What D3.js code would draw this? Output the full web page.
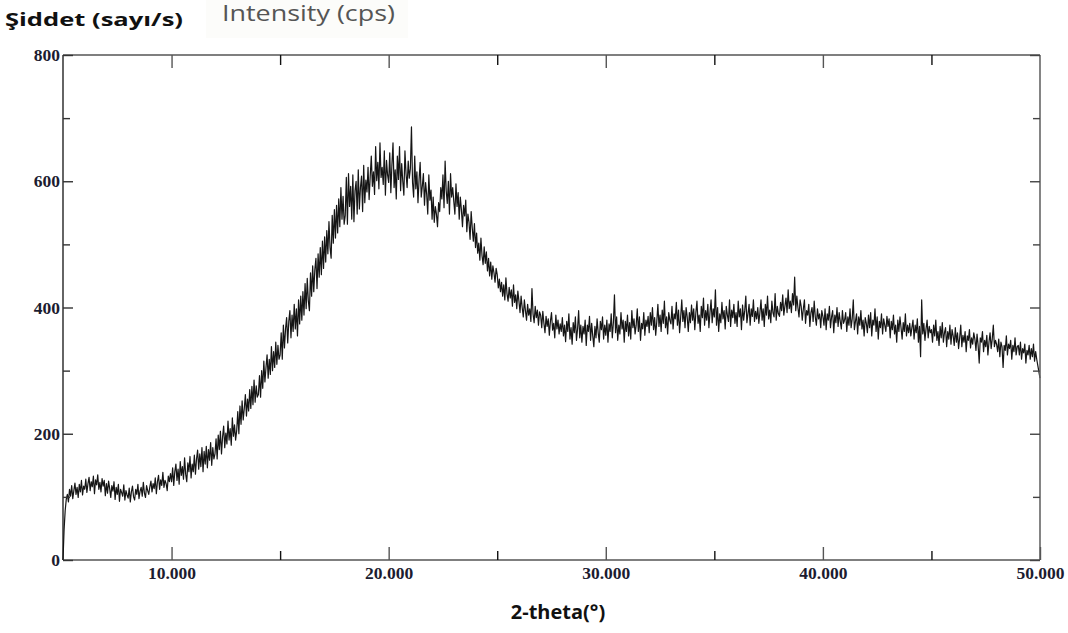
<!DOCTYPE html>
<html><head><meta charset="utf-8">
<script src="https://cdn.jsdelivr.net/npm/d3@7"></script>
<style>body{margin:0;background:#fff;}svg{display:block;}</style>
</head><body>
<script>
// 2-theta start, step (degrees) and intensity readings (cps), one row per degree
const thetaStart = 5.0;
const thetaStep = 0.05;
const intensity = [
  0, 48, 78, 96, 104, 92, 112, 101, 118, 97, 110, 122, 104, 115, 99, 120, 108, 126, 103, 117,
  112, 128, 107, 121, 131, 110, 124, 116, 133, 105, 127, 119, 135, 112, 123, 108, 129, 117, 126, 102,
  121, 106, 125, 113, 99, 118, 109, 124, 96, 115, 104, 120, 93, 112, 107, 101, 119, 95, 110, 103,
  98, 114, 92, 108, 117, 100, 95, 112, 104, 120, 97, 109, 115, 101, 123, 106, 99, 118, 110, 104,
  116, 125, 108, 121, 113, 130, 105, 124, 134, 112, 127, 118, 139, 115, 126, 121, 110, 133, 124, 137,
  124, 146, 118, 140, 152, 126, 144, 120, 156, 134, 148, 128, 162, 136, 124, 154, 140, 164, 130, 152,
  140, 166, 136, 160, 174, 144, 168, 148, 178, 140, 172, 152, 180, 146, 175, 158, 186, 150, 178, 160,
  168, 192, 160, 198, 175, 204, 168, 195, 212, 178, 201, 184, 220, 190, 208, 182, 225, 196, 214, 190,
  205, 235, 200, 244, 215, 252, 222, 240, 262, 228, 255, 236, 270, 240, 275, 246, 285, 250, 276, 258,
  262, 292, 258, 300, 272, 315, 282, 305, 325, 288, 318, 294, 338, 300, 330, 305, 345, 310, 340, 318,
  325, 360, 318, 372, 336, 366, 384, 344, 378, 395, 352, 388, 362, 405, 366, 398, 355, 412, 374, 418,
  380, 425, 388, 438, 398, 446, 410, 395, 455, 418, 466, 425, 460, 478, 430, 485, 448, 495, 452, 505,
  462, 512, 472, 522, 485, 536, 495, 478, 546, 502, 555, 510, 562, 518, 572, 528, 590, 540, 576, 532,
  546, 606, 532, 612, 560, 592, 540, 610, 536, 585, 600, 548, 618, 556, 590, 608, 552, 625, 566, 602,
  583, 622, 571, 608, 640, 592, 615, 579, 655, 601, 630, 588, 661, 606, 622, 595, 648, 578, 633, 610,
  598, 645, 582, 626, 661, 590, 618, 572, 640, 603, 655, 585, 628, 600, 578, 648, 612, 590, 632, 605,
  620, 686, 598, 575, 640, 588, 615, 566, 602, 630, 575, 592, 612, 562, 598, 580, 548, 610, 570, 586,
  540, 575, 535, 560, 548, 528, 566, 552, 590, 572, 610, 558, 632, 585, 565, 600, 548, 612, 575, 590,
  568, 548, 596, 560, 582, 540, 575, 555, 528, 562, 545, 570, 520, 548, 535, 508, 552, 526, 505, 533,
  495, 518, 486, 502, 475, 510, 482, 468, 496, 470, 488, 458, 478, 450, 472, 445, 466, 455, 440, 462,
  452, 431, 445, 425, 440, 418, 436, 412, 447, 422, 410, 432, 415, 428, 402, 436, 408, 420, 398, 426,
  410, 392, 418, 400, 385, 412, 395, 380, 405, 388, 398, 378, 430, 390, 376, 402, 384, 396, 372, 393,
  388, 368, 394, 375, 360, 386, 370, 382, 356, 378, 392, 364, 375, 352, 388, 366, 380, 358, 374, 362,
  384, 355, 372, 346, 378, 362, 390, 350, 368, 342, 376, 360, 385, 348, 366, 395, 352, 372, 345, 370,
  358, 380, 340, 372, 362, 386, 348, 375, 355, 338, 370, 352, 382, 360, 345, 378, 365, 385, 350, 372,
  356, 380, 345, 374, 362, 390, 352, 376, 420, 360, 385, 348, 372, 358, 392, 366, 380, 345, 378, 362,
  388, 355, 376, 350, 395, 368, 382, 358, 372, 398, 362, 385, 348, 375, 366, 392, 356, 380, 370, 386,
  360, 392, 372, 400, 365, 384, 356, 378, 405, 370, 388, 362, 396, 375, 410, 368, 385, 358, 392, 380,
  374, 402, 366, 390, 382, 408, 372, 396, 360, 385, 412, 378, 395, 368, 400, 385, 362, 392, 376, 404,
  380, 398, 365, 392, 410, 375, 388, 362, 402, 384, 415, 372, 395, 380, 405, 368, 392, 412, 376, 398,
  385, 428, 372, 400, 362, 390, 376, 408, 382, 395, 366, 402, 388, 378, 412, 370, 396, 384, 405, 375,
  392, 370, 410, 385, 398, 365, 404, 380, 395, 418, 376, 390, 405, 372, 398, 386, 412, 378, 394, 382,
  400, 375, 392, 412, 380, 398, 370, 405, 388, 418, 382, 396, 376, 410, 392, 385, 422, 380, 402, 390,
  386, 408, 395, 420, 388, 402, 415, 392, 428, 398, 410, 392, 422, 404, 448, 395, 418, 400, 385, 412,
  402, 380, 398, 412, 375, 395, 388, 405, 370, 392, 400, 378, 410, 385, 372, 398, 382, 390, 368, 395,
  386, 372, 398, 365, 390, 380, 402, 368, 385, 395, 360, 388, 376, 400, 370, 392, 378, 366, 395, 375,
  380, 392, 362, 385, 372, 398, 368, 382, 412, 365, 378, 390, 358, 385, 372, 395, 366, 380, 355, 384,
  375, 360, 388, 368, 392, 355, 380, 372, 398, 362, 385, 350, 378, 368, 390, 358, 382, 372, 362, 386,
  370, 382, 352, 378, 365, 388, 358, 372, 345, 380, 362, 385, 368, 350, 376, 362, 390, 355, 372, 360,
  375, 355, 368, 380, 350, 372, 360, 382, 345, 370, 322, 412, 358, 375, 348, 366, 380, 352, 370, 360,
  365, 345, 372, 355, 380, 348, 362, 340, 370, 352, 376, 345, 360, 368, 338, 362, 350, 372, 342, 365,
  355, 340, 368, 345, 360, 335, 352, 372, 338, 356, 345, 362, 330, 355, 348, 365, 336, 352, 342, 360,
  350, 332, 358, 340, 312, 352, 345, 362, 330, 348, 338, 356, 325, 345, 360, 335, 350, 372, 338, 348,
  342, 330, 350, 322, 345, 338, 305, 340, 332, 355, 325, 342, 335, 348, 318, 340, 330, 352, 325, 338,
  340, 325, 345, 318, 335, 328, 342, 312, 332, 325, 340, 318, 335, 322, 342, 315, 330, 318, 308, 298,
  288
];
const xMajorTicks = [10, 20, 30, 40, 50];
const xMinorTicks = [15, 25, 35, 45];
const yMajorTicks = [0, 200, 400, 600, 800];
const yMinorTicks = [100, 300, 500, 700];
const titleTR = "Şiddet (sayı/s)";
const titleEN = "Intensity (cps)";
const xTitle = "2-theta(°)";

const W = 1068, H = 633;
const m = {left: 63, top: 55, right: 1040, bottom: 560};
const svg = d3.select("body").append("svg").attr("width", W).attr("height", H);

const x = d3.scaleLinear().domain([5, 50]).range([m.left, m.right]);
const y = d3.scaleLinear().domain([0, 800]).range([m.bottom, m.top]);

const data = intensity.map((v, i) => ({t: thetaStart + i * thetaStep, v}));

// data line
svg.append("path").datum(data)
  .attr("fill", "none").attr("stroke", "#151515").attr("stroke-width", 1.2)
  .attr("stroke-linejoin", "round")
  .attr("d", d3.line().x(d => x(d.t)).y(d => y(d.v)));

// frame
svg.append("line").attr("x1", m.left).attr("x2", m.right).attr("y1", m.top).attr("y2", m.top)
  .attr("stroke", "#555").attr("stroke-width", 1.3);
svg.append("line").attr("x1", m.right).attr("x2", m.right).attr("y1", m.top).attr("y2", m.bottom)
  .attr("stroke", "#666").attr("stroke-width", 1.6);
svg.append("line").attr("x1", m.left).attr("x2", m.right).attr("y1", m.bottom).attr("y2", m.bottom)
  .attr("stroke", "#555").attr("stroke-width", 1.6);
svg.append("line").attr("x1", m.left).attr("x2", m.left).attr("y1", m.top).attr("y2", m.bottom)
  .attr("stroke", "#111").attr("stroke-width", 1.3);

function styleAxis(g, color) {
  g.select(".domain").remove();
  g.selectAll(".tick line").attr("stroke", color).attr("stroke-width", 1.4);
}
const labFont = "'Liberation Serif','Times New Roman',serif";
function styleLabels(g) {
  g.selectAll("text")
    .attr("font-family", labFont).attr("font-size", 17.5).attr("font-weight", "bold")
    .attr("fill", "#1c1c30");
}

// left axis (inward ticks) with labels
svg.append("g").attr("transform", `translate(${m.left},0)`)
  .call(d3.axisLeft(y).tickValues(yMajorTicks).tickSizeInner(-10).tickSizeOuter(0).tickPadding(3).tickFormat(d3.format("d")))
  .call(g => styleAxis(g, "#333"))
  .call(styleLabels);
svg.append("g").attr("transform", `translate(${m.left},0)`)
  .call(d3.axisLeft(y).tickValues(yMinorTicks).tickSizeInner(-7).tickSizeOuter(0).tickFormat(""))
  .call(g => styleAxis(g, "#333"));
// right axis ticks
svg.append("g").attr("transform", `translate(${m.right},0)`)
  .call(d3.axisRight(y).tickValues(yMajorTicks).tickSizeInner(-10).tickSizeOuter(0).tickFormat(""))
  .call(g => styleAxis(g, "#444"));
svg.append("g").attr("transform", `translate(${m.right},0)`)
  .call(d3.axisRight(y).tickValues(yMinorTicks).tickSizeInner(-7).tickSizeOuter(0).tickFormat(""))
  .call(g => styleAxis(g, "#444"));

// bottom axis
svg.append("g").attr("transform", `translate(0,${m.bottom})`)
  .call(d3.axisBottom(x).tickValues(xMajorTicks).tickSizeInner(-13).tickSizeOuter(0).tickFormat(d3.format(".3f")))
  .call(g => styleAxis(g, "#555"))
  .call(styleLabels)
  .call(g => g.selectAll("text").attr("y", 19).attr("dy", null));
svg.append("g").attr("transform", `translate(0,${m.bottom})`)
  .call(d3.axisBottom(x).tickValues(xMinorTicks).tickSizeInner(-9).tickSizeOuter(0).tickFormat(""))
  .call(g => styleAxis(g, "#111"));
// top axis ticks
svg.append("g").attr("transform", `translate(0,${m.top})`)
  .call(d3.axisTop(x).tickValues(xMajorTicks.filter(d => d < 50)).tickSizeInner(-13).tickSizeOuter(0).tickFormat(""))
  .call(g => styleAxis(g, "#555"));
svg.append("g").attr("transform", `translate(0,${m.top})`)
  .call(d3.axisTop(x).tickValues(xMinorTicks).tickSizeInner(-10).tickSizeOuter(0).tickFormat(""))
  .call(g => styleAxis(g, "#111"));

// titles
svg.append("rect").attr("x", 206).attr("y", 0).attr("width", 202).attr("height", 38).attr("fill", "#fcfcfa");
svg.append("text").attr("x", 5).attr("y", 26).text(titleTR)
  .attr("font-family", "'Open Sans','Noto Sans',sans-serif").attr("font-weight", "bold").attr("font-size", 18)
  .attr("textLength", 178).attr("lengthAdjust", "spacingAndGlyphs").attr("fill", "#111");
svg.append("text").attr("x", 222).attr("y", 21).text(titleEN)
  .attr("font-family", "'Open Sans','Noto Sans',sans-serif").attr("font-size", 21)
  .attr("textLength", 173).attr("lengthAdjust", "spacingAndGlyphs").attr("fill", "#555");
svg.append("text").attr("x", 558).attr("y", 619).attr("text-anchor", "middle").text(xTitle)
  .attr("font-family", "'Open Sans','Noto Sans',sans-serif").attr("font-weight", "bold").attr("font-size", 20).attr("fill", "#111");
</script>
</body></html>
